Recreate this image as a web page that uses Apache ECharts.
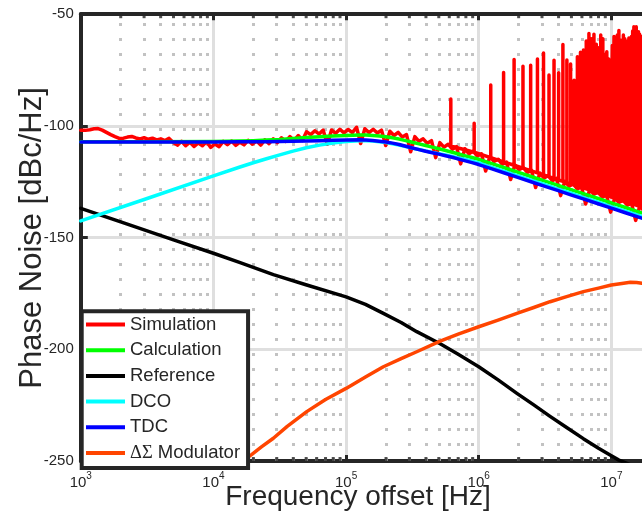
<!DOCTYPE html>
<html><head><meta charset="utf-8">
<script src="https://cdn.jsdelivr.net/npm/echarts@6/dist/echarts.min.js"></script>
<style>html,body{margin:0;padding:0;background:#fff;overflow:hidden;width:642px;height:515px}#c{width:744px;height:515px}</style>
</head><body><div id="c"></div>
<script>
// ---------- data ----------
const legendNames = ['Simulation', 'Calculation', 'Reference', 'DCO', 'TDC', 'ΔΣ Modulator'];
const yTickLabels = [-250, -200, -150, -100, -50];

const simFreq = [1000,1080,1170,1260,1350,1450,1560,1680,1810,1950,2100,2250,2420,2600,2800,3000,3230,3470,3730,4010,4310,4630,4980,5350,5750,6180,6650,7150,7680,8260,8880,9540,10260,11030,11850,12740,13700,14720,15830,17010,18290,19660,21130,22720,24420,26250,28220,30340,32610,35060,37690,40510,43550,46820,50330,54100,58160,62520,67210,72250,77670,83490,89750,96480,103700,111500,119900,128800,138500,148900,160100,172100,185000,198900,213800,229800,247000,265600,285500,306900,329900,354600,381200,409800,440500,473600,509100,547300,588300,632400,679900,730900,785700,844600,908000,976100,1049000,1128000,1213000,1304000,1401000,1506000,1619000,1741000,1871000,2011000,2162000,2325000,2499000,2686000,2888000,3104000,3337000,3588000,3857000,4146000,4457000,4791000,5151000,5537000,5952000,6399000,6879000,7394000,7949000,8545000,9186000,9875000,10620000,11410000,12270000,13190000,14180000,15240000,16380000,17610000,18930000];
const simVal = [-101.9,-102.0,-101.7,-101.3,-101.2,-101.9,-102.9,-103.9,-104.8,-105.6,-105.5,-105.0,-104.7,-105.4,-105.8,-105.3,-106.0,-105.5,-106.3,-105.8,-106.6,-105.6,-107.4,-108.6,-106.9,-108.9,-107.3,-109.2,-107.6,-108.9,-107.1,-109.6,-108.1,-109.3,-106.9,-108.4,-106.8,-108.7,-107.3,-108.5,-106.5,-108.2,-106.7,-108.6,-106.3,-107.9,-105.8,-107.5,-105.3,-106.9,-104.8,-106.6,-104.3,-106.5,
  -102.6,-103.9,-102.2,-103.6,-101.9,-108.2,-101.8,-103.3,-101.5,-103.1,-101.6,-103.0,-100.6,-107.9,-101.3,-103.0,-101.5,-103.2,-101.9,-108.8,-102.4,-104.3,-102.9,-105.0,-103.9,-111.6,-104.8,-106.9,-105.8,-107.8,-106.6,-114.2,-107.5,-109.5,-108.2,-110.4,-109.3,-117.0,-110.2,-112.5,-111.3,-113.5,-112.5,-120.2,-113.7,-115.9,-114.9,-117.2,-116.2,-124.0,-117.5,-119.6,-118.6,-120.8,-119.9,-127.6,-121.1,-123.3,-122.3,-124.5,-123.5,-131.2,-124.8,-127.0,-126.0,-128.2,-127.2,-135.0,-128.4,-130.6,-129.7,-131.9,-130.9,-138.6,-132.1,-134.3,-133.3,-135.5,-134.6,-142.3,-135.8,-138.0,-137.0];

const spurFreq = [616000,924000,1232000,1540000,1848000,2156000,2464000,2772000,3080000,3388000,3696000,4004000,4312000,4620000,4928000,5236000,5544000,5852000,6160000,6468000,6776000,7084000,7392000,7700000,8008000,8316000,8624000,8932000,9240000,9548000,9856000,10164000,10472000,10780000,11088000,11396000,11704000,12012000,12320000,12628000,12936000,13244000,13552000,13860000,14168000,14476000,14784000,15092000,15400000,15708000,16016000,16324000,16632000,16940000,17248000];
const spurTop = [-88.0,-98.8,-81.7,-76.1,-70.3,-73.3,-72.8,-70.0,-67.4,-77.2,-70.6,-76.2,-63.6,-70.5,-72.3,-79.6,-69.1,-67.0,-66.0,-62.0,-58.6,-61.0,-59.0,-63.5,-65.0,-59.3,-61.0,-68.0,-66.8,-70.0,-78.0,-64.0,-60.0,-60.5,-59.3,-57.3,-61.5,-62.5,-59.3,-61.0,-64.5,-62.0,-60.7,-61.5,-60.0,-57.5,-55.6,-57.0,-55.6,-58.6,-57.8,-59.0,-60.8,-60.0,-61.0];
const spurBase = [-109.0,-111.8,-114.2,-116.1,-117.6,-118.9,-120.0,-121.0,-121.9,-122.7,-123.5,-124.2,-124.8,-125.4,-125.9,-126.4,-126.9,-127.4,-127.8,-128.2,-128.6,-129.0,-129.3,-129.7,-130.0,-130.3,-130.6,-130.9,-131.2,-131.5,-131.8,-132.0,-132.3,-132.5,-132.8,-133.0,-133.2,-133.4,-133.7,-133.9,-134.1,-134.3,-134.5,-134.7,-134.9,-135.0,-135.2,-135.4,-135.5,-135.7,-135.9,-136.0,-136.2,-136.4,-136.5];

const curveFreq = [1000,3162,10000,15850,19950,25120,31620,39810,50120,63100,79430,100000,125900,141300,158500,177800,199500,223900,251200,281800,316200,354800,398100,446700,501200,562300,631000,707900,794300,891300,1000000,1259000,1585000,1995000,2512000,3162000,3981000,5012000,6310000,7943000,10000000,12590000,15850000,19950000];
const calcVal = [-107.1,-107.1,-107.0,-106.8,-106.6,-106.35,-106.1,-105.65,-105.2,-104.85,-104.55,-104.3,-104.1,-104.1,-104.3,-104.55,-104.9,-105.35,-105.9,-106.6,-107.3,-108.05,-108.8,-109.5,-110.25,-111.0,-111.8,-112.6,-113.4,-114.15,-114.95,-116.9,-118.85,-120.8,-122.75,-124.7,-126.65,-128.6,-130.55,-132.5,-134.45,-136.4,-138.35,-140.3];
const tdcVal = [-107.2,-107.2,-107.2,-107.15,-107.1,-107.05,-107.0,-106.9,-106.8,-106.65,-106.45,-106.3,-106.25,-106.3,-106.55,-106.85,-107.2,-107.7,-108.3,-109.1,-109.9,-110.6,-111.35,-112.0,-112.65,-113.35,-114.05,-114.85,-115.65,-116.45,-117.3,-119.25,-121.2,-123.15,-125.1,-127.05,-129.0,-130.95,-132.9,-134.85,-136.8,-138.75,-140.7,-142.65];
const dcoVal = [-142.5,-132.5,-122.4,-118.4,-116.5,-114.7,-113.0,-111.3,-109.8,-108.6,-107.7,-107.0,-106.65,-106.6,-106.75,-107.05,-107.45,-107.95,-108.55,-109.25,-109.95,-110.6,-111.25,-111.85,-112.45,-113.05,-113.7,-114.35,-115.05,-115.8,-116.6,-118.55,-120.5,-122.45,-124.4,-126.35,-128.3,-130.25,-132.2,-134.15,-136.1,-138.05,-140.0,-141.95];

const refFreq = [1000,2000,5000,10000,15900,28300,50500,100000,140000,191000,260000,341000,512000,700000,1000000,1400000,1940000,2600000,3450000,4600000,6150000,8000000,10000000,11400000,15000000];
const refVal = [-136.9,-143.0,-151.0,-157.0,-161.2,-166.6,-171.2,-176.5,-179.9,-183.9,-188.0,-192.1,-197.5,-202.2,-207.8,-213.7,-219.7,-224.9,-230.0,-235.0,-240.0,-244.3,-247.7,-249.6,-252.5];

const dsmFreq = [14000,17000,19500,23000,28300,36000,50500,70000,100000,140000,191000,260000,341000,512000,700000,1000000,1400000,1940000,2600000,3450000,4600000,6150000,8000000,10000000,12000000,13900000,15500000,17000000,20000000];
const dsmVal = [-253.0,-249.6,-247.0,-243.7,-239.8,-234.5,-227.9,-222.5,-217.5,-212.4,-207.8,-204.2,-201.1,-196.3,-193.2,-189.9,-186.9,-183.9,-181.3,-178.7,-176.4,-174.2,-172.6,-171.2,-170.5,-170.0,-170.1,-170.4,-171.2];

// ---------- chart ----------
const F = "'Liberation Sans', Arial, Helvetica, sans-serif";
const AX = '#262626';
const zip = (xs, ys) => xs.slice(0, Math.min(xs.length, ys.length)).map((x, i) => [x, ys[i]]);

// minor (2..9) positions of the log axis
const minorVals = [];
for (let e = 3; e < 8; e++) for (let m = 2; m <= 9; m++) minorVals.push(m * Math.pow(10, e));

const spurData = [];
spurFreq.forEach((f, i) => { spurData.push([f, spurBase[i]], [f, spurTop[i]], [f, spurBase[i]]); });

function lineSeries(name, data, color) {
  return {
    name, type: 'line', data, symbol: 'none', showSymbol: false,
    color, itemStyle: { color },
    lineStyle: { color, width: 3.5, cap: 'round', join: 'round' },
    emphasis: { disabled: true }, silent: true, animation: false
  };
}

const xCommon = {
  type: 'log', logBase: 10, min: 1000, max: 1e8, gridIndex: 0,
  axisLine: { show: true, onZero: false, lineStyle: { color: AX, width: 4 } },
  axisTick: { show: true, inside: true, length: 6, lineStyle: { color: AX, width: 3 } },
  minorTick: { show: false }, minorSplitLine: { show: false }
};

const option = {
  animation: false,
  backgroundColor: '#fff',
  grid: { left: 80.8, top: 14.2, right: 0, bottom: 54, containLabel: false, outerBoundsMode: 'none' },
  xAxis: [
    Object.assign({}, xCommon, {
      position: 'bottom',
      splitLine: { show: true, lineStyle: { color: '#dfdfdf', width: 3 } },
      axisLabel: {
        margin: 10,
        formatter: v => '{b|10}{s|' + Math.round(Math.log10(v)) + '}',
        rich: {
          b: { fontSize: 15, fontFamily: F, color: AX, padding: [4, 0, 0, 0] },
          s: { fontSize: 10, fontFamily: F, color: AX, verticalAlign: 'top' }
        }
      }
    }),
    Object.assign({}, xCommon, {
      position: 'top',
      splitLine: { show: false },
      axisLabel: { show: false }
    })
  ],
  yAxis: {
    type: 'value', min: -250, max: -50, interval: 50,
    axisLine: { show: true, onZero: false, lineStyle: { color: AX, width: 4 } },
    axisTick: { show: true, inside: true, length: 7, lineStyle: { color: AX, width: 3 } },
    splitLine: { show: true, lineStyle: { color: '#dfdfdf', width: 3 } },
    axisLabel: { margin: 7, fontSize: 15, fontFamily: F, color: AX,
      formatter: v => (yTickLabels.indexOf(v) >= 0 ? String(v) : '') }
  },
  legend: {
    data: legendNames, orient: 'vertical', left: 81.7, top: 311.3,
    padding: [3.7, 8, 5.5, 4.3], itemWidth: 39, itemHeight: 4, itemGap: 6.7,
    icon: 'rect',
    borderColor: AX, borderWidth: 4, borderRadius: 0, backgroundColor: '#fff',
    selectedMode: false,
    textStyle: { fontSize: 18.5, fontFamily: F, color: AX,
      rich: { g: { fontSize: 18.5, fontFamily: "'Liberation Serif', 'Times New Roman', serif", color: AX } } },
    formatter: n => (n === 'ΔΣ Modulator' ? '{g|ΔΣ} Modulator' : n)
  },
  graphic: [
    { type: 'text', x: 358, y: 497, silent: true,
      style: { text: 'Frequency offset [Hz]', fontSize: 28, fontFamily: F, fill: AX,
        align: 'center', verticalAlign: 'middle', textAlign: 'center', textVerticalAlign: 'middle' } },
    { type: 'text', x: 32, y: 238, rotation: Math.PI / 2, silent: true,
      style: { text: 'Phase Noise [dBc/Hz]', fontSize: 31, fontFamily: F, fill: AX,
        align: 'center', verticalAlign: 'middle', textAlign: 'center', textVerticalAlign: 'middle' } }
  ],
  series: [
    { name: '_minorgrid', type: 'line', data: [], silent: true, animation: false,
      markLine: { z: 1, silent: true, symbol: ['none', 'none'], label: { show: false }, animation: false,
        emphasis: { disabled: true },
        lineStyle: { color: '#c2c2c2', width: 3, type: [3, 12], cap: 'butt' },
        data: minorVals.map(v => ({ xAxis: v })) } },
    { name: '_ticksTop', type: 'scatter', xAxisIndex: 0, data: minorVals.map(v => [v, -50]),
      symbol: 'rect', symbolSize: [3, 4], symbolOffset: [0, 2], clip: false, silent: true,
      itemStyle: { color: AX }, animation: false },
    { name: '_ticksBot', type: 'scatter', xAxisIndex: 0, data: minorVals.map(v => [v, -250]),
      symbol: 'rect', symbolSize: [3, 4], symbolOffset: [0, -2], clip: false, silent: true,
      itemStyle: { color: AX }, animation: false },
    lineSeries('Simulation', zip(simFreq, simVal), '#ff0000'),
    lineSeries('Simulation', spurData, '#ff0000'),
    lineSeries('Calculation', zip(curveFreq, calcVal), '#00ff00'),
    lineSeries('Reference', zip(refFreq, refVal), '#000000'),
    lineSeries('DCO', zip(curveFreq, dcoVal), '#00ffff'),
    lineSeries('TDC', zip(curveFreq, tdcVal), '#0000ff'),
    lineSeries('ΔΣ Modulator', zip(dsmFreq, dsmVal), '#ff4500')
  ]
};

const chart = echarts.init(document.getElementById('c'), null, { renderer: 'canvas' });
chart.setOption(option);
</script>
</body></html>
